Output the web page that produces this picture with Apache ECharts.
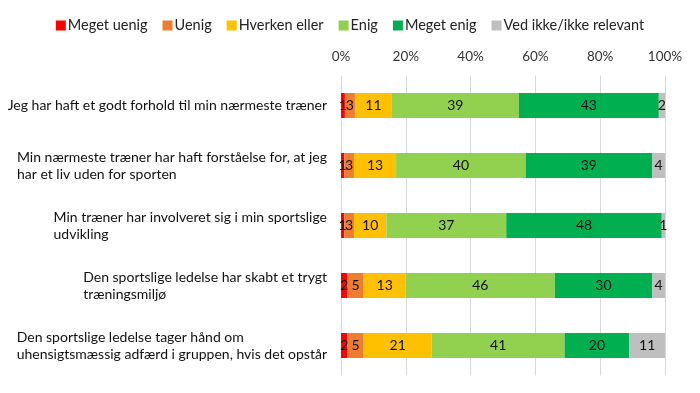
<!DOCTYPE html>
<html><head><meta charset="utf-8">
<script src="https://cdn.jsdelivr.net/npm/echarts@6/dist/echarts.min.js"></script>
<style>html,body{margin:0;padding:0;background:#fff}#c{width:700px;height:393px}</style>
</head><body><div id="c"></div>
<script>
var categories = [
  "Jeg har haft et godt forhold til min nærmeste træner",
  "Min nærmeste træner har haft forståelse for, at jeg\nhar et liv uden for sporten",
  "Min træner har involveret sig i min sportslige\nudvikling",
  "Den sportslige ledelse har skabt et trygt\ntræningsmiljø",
  "Den sportslige ledelse tager hånd om\nuhensigtsmæssig adfærd i gruppen, hvis det opstår"
];
var seriesNames = ["Meget uenig","Uenig","Hverken eller","Enig","Meget enig","Ved ikke/ikke relevant"];
var megetUenig = [1.2,1,1,2,2];
var uenig = [3.1,3,3,5,5];
var hverkenEller = [11.4,13,10,13,21];
var enig = [39.2,40,37,46,41];
var megetEnig = [43.2,39,48,30,20];
var vedIkke = [1.9,4,1,4,11];
var tickLabels = ["0%","20%","40%","60%","80%","100%"];
var colors = ["#FF0000","#ED7D31","#FFC000","#92D050","#00B050","#BFBFBF"];
var values = [megetUenig,uenig,hverkenEller,enig,megetEnig,vedIkke];

var font = "Lato, 'Open Sans', sans-serif";
var chart = echarts.init(document.getElementById('c'), null, {renderer:'canvas'});
chart.setOption({
  animation:false,
  color: colors,
  legend:{
    top: 13, left: 'center', itemWidth: 10, itemHeight: 10, itemGap: 15,
    icon:'rect',
    textStyle:{fontFamily: font, fontSize: 14.5, color:'#222', padding:[0,0,0,-3]},
    data: seriesNames
  },
  grid:{left:341, right:35, top:75.5, bottom:17.5, containLabel:false},
  xAxis:{
    type:'value', position:'top', min:0, max:100, interval:20,
    axisLine:{show:false}, axisTick:{show:false},
    splitLine:{show:true, lineStyle:{color:'#d9d9d9', width:1}},
    axisLabel:{margin:12, fontFamily:font, fontSize:13.5, color:'#333',
      formatter:function(v){return tickLabels[Math.round(v/20)];}}
  },
  yAxis:{
    type:'category', inverse:true, data: categories,
    axisLine:{show:false}, axisTick:{show:false},
    axisLabel:{margin:14, align:'right',
      formatter:function(v){return v.split('\n').map(function(l){return '{a|'+l+'}';}).join('\n');},
      rich:{a:{fontFamily:font, fontSize:14, color:'#111', lineHeight:17, align:'left'}}
    }
  },
  series: seriesNames.map(function(n,i){
    return {
      name:n, type:'bar', stack:'all', barWidth:25,
      data: values[i],
      itemStyle:{color:colors[i]},
      label:{show:true, position:'inside', color:'#111', fontFamily:font, fontSize:14,
        formatter:function(p){return Math.round(p.value);}}
    };
  })
});
</script></body></html>
